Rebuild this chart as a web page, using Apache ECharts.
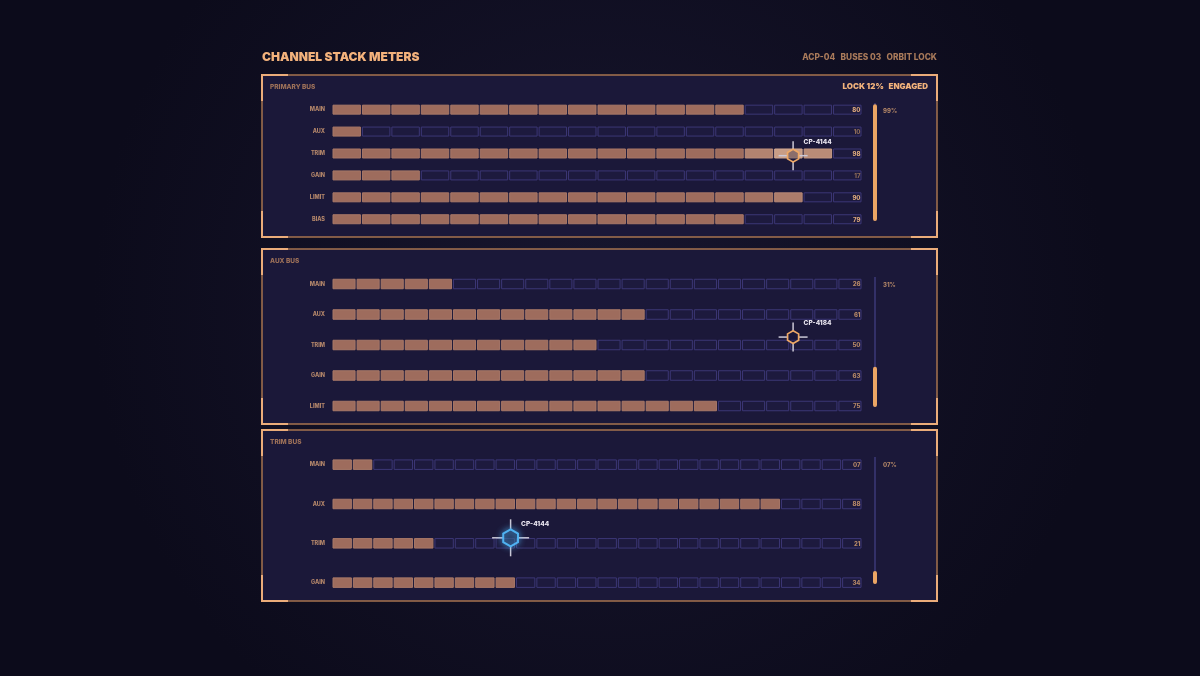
<!DOCTYPE html>
<html><head><meta charset="utf-8">
<script src="https://cdn.jsdelivr.net/npm/echarts@6/dist/echarts.min.js"></script>
<style>html,body{margin:0;padding:0;background:#110f25;}#c{width:1200px;height:676px;}</style>
</head><body><div id="c"></div>
<script>
// ---------- data ----------
const chartTitle = 'CHANNEL STACK METERS';
const metaText = 'ACP-04   BUSES 03   ORBIT LOCK';
const lockText = 'LOCK 12%   ENGAGED';
const panelTitles = ['PRIMARY BUS', 'AUX BUS', 'TRIM BUS'];
const rows1 = ['MAIN', 'AUX', 'TRIM', 'GAIN', 'LIMIT', 'BIAS'];
const values1 = [80, 10, 98, 17, 90, 79];
const rows2 = ['MAIN', 'AUX', 'TRIM', 'GAIN', 'LIMIT'];
const values2 = [26, 61, 50, 63, 75];
const rows3 = ['MAIN', 'AUX', 'TRIM', 'GAIN'];
const values3 = [7.8, 88, 21, 34.8];
const segmentCounts = [18, 22, 26];
const gaugeValues = [99, 31, 7];
const cursorIds = ['CP-4144', 'CP-4184', 'CP-4144'];
const cursorX = [87, 87, 33.7];     // % along track
const cursorRow = [2.1, 1.74, 1.86]; // row position

// ---------- layout / style ----------
const FONT = 'Inter, "Noto Sans", sans-serif';
const rowsAll = [rows1, rows2, rows3];
const valuesAll = [values1, values2, values3];
const L = [
  {box: [262, 75, 675, 162], grid: {top: 98.7, height: 131.5}, gauge: {top: 103, height: 118}, segH: 9},
  {box: [262, 249, 675, 175], grid: {top: 268.75, height: 152.5}, gauge: {top: 277, height: 130}, segH: 9.5},
  {box: [262, 430, 675, 171], grid: {top: 445, height: 157.3}, gauge: {top: 457, height: 127}, segH: 9.5}
];
const cursorStyle = [
  {color: '#eea866', r: 6.4, arm: 14.5, lw: 1.7, glow: 0, lightRadius: 60},
  {color: '#eea866', r: 6.4, arm: 14.5, lw: 1.7, glow: 0, lightRadius: 60},
  {color: '#4fb2f2', r: 8.5, arm: 18.5, lw: 2, glow: 6, lightRadius: 0}
];
const ON = [158, 108, 93], HI = [204, 162, 138];
function mix(a, b, k) {
  return 'rgb(' + a.map((v, i) => Math.round(v + (b[i] - v) * k)).join(',') + ')';
}
const pad = v => String(Math.floor(v)).padStart(2, '0');

function meterRender(p) {
  return function (params, api) {
    const row = api.value(0), v = api.value(1);
    const N = segmentCounts[p];
    const lit = Math.floor(v / 100 * N + 1e-9);
    const cy = api.coord([0, row])[1];
    const h = L[p].segH;
    const cur = api.coord([cursorX[p], cursorRow[p]]);
    const lr = cursorStyle[p].lightRadius;
    const children = [];
    let lastX = 0;
    for (let i = 0; i < N; i++) {
      const x0 = api.coord([i * 100 / N, row])[0];
      const x1 = api.coord([(i + 1) * 100 / N, row])[0];
      lastX = x1;
      const on = i < lit;
      let fill = '#1d1a3e', stroke = '#3c3776';
      if (on) {
        const d = Math.hypot((x0 + x1) / 2 - cur[0], cy - cur[1]);
        const k = lr > 0 ? Math.max(0, 1 - d / lr) : 0;
        fill = mix(ON, HI, k);
        stroke = mix([168, 120, 104], [214, 174, 150], k);
      }
      children.push({type: 'rect', shape: {x: x0 + 1, y: cy - h / 2, width: x1 - x0 - 2, height: h},
        style: {fill: fill, stroke: stroke, lineWidth: 1}});
    }
    const bright = p === 0 ? (v >= 50 ? '#dca87c' : '#8e6c58') : '#b48766';
    children.push({type: 'text', style: {text: pad(v), x: lastX - 1.5, y: cy + 0.5, align: 'right', verticalAlign: 'middle',
      font: '800 6px ' + FONT, fill: bright}});
    return {type: 'group', children: children};
  };
}

function cursorRender(p) {
  return function (params, api) {
    const c = api.coord([api.value(0), api.value(1)]);
    const st = cursorStyle[p];
    const r = st.r, arm = st.arm, hx = r * 0.866;
    const pts = [];
    for (let k = 0; k < 6; k++) {
      const a = (-90 + 60 * k) * Math.PI / 180;
      pts.push([c[0] + r * Math.cos(a), c[1] + r * Math.sin(a)]);
    }
    const ls = {stroke: '#cbc8d6', lineWidth: 1.5};
    return {type: 'group', children: [
      {type: 'line', shape: {x1: c[0] - arm, y1: c[1], x2: c[0] - hx, y2: c[1]}, style: ls},
      {type: 'line', shape: {x1: c[0] + hx, y1: c[1], x2: c[0] + arm, y2: c[1]}, style: ls},
      {type: 'line', shape: {x1: c[0], y1: c[1] - arm, x2: c[0], y2: c[1] - r}, style: ls},
      {type: 'line', shape: {x1: c[0], y1: c[1] + r, x2: c[0], y2: c[1] + arm}, style: ls},
      {type: 'polygon', shape: {points: pts}, style: {fill: 'rgba(27,24,56,0.35)', stroke: st.color, lineWidth: st.lw,
        shadowBlur: st.glow, shadowColor: st.color}},
      {type: 'text', style: {text: cursorIds[p], x: c[0] + 10.5, y: c[1] - 14, align: 'left', verticalAlign: 'middle',
        font: '800 6.5px ' + FONT, fill: '#ece8f2'}}
    ]};
  };
}

function gaugeRender(p) {
  return function (params, api) {
    const v = api.value(1);
    const top = api.coord([0.5, 100]), bot = api.coord([0.5, 0]), val = api.coord([0.5, v]);
    let y0 = val[1];
    if (bot[1] - y0 < 13) y0 = bot[1] - 13;
    return {type: 'group', children: [
      {type: 'line', shape: {x1: top[0], y1: top[1], x2: bot[0], y2: bot[1]}, style: {stroke: '#3d3978', lineWidth: 1.5}},
      {type: 'rect', shape: {x: top[0] - 2, y: y0, width: 4, height: bot[1] - y0, r: 2}, style: {fill: '#eba564'}},
      {type: 'text', style: {text: pad(v) + '%', x: top[0] + 8, y: top[1] + 8, align: 'left', verticalAlign: 'middle',
        font: '800 6px ' + FONT, fill: '#b08466'}}
    ]};
  };
}

const grids = [], xAxes = [], yAxes = [], series = [];
const graphics = [
  {type: 'rect', shape: {x: 0, y: 0, width: 1200, height: 676}, z: -100,
    style: {fill: {type: 'radial', x: 0.5, y: 0.45, r: 0.75, colorStops: [
      {offset: 0, color: '#18162f'}, {offset: 1, color: '#0c0b1b'}]}}},
  {type: 'text', x: 262, y: 57, z: 10, style: {text: chartTitle, font: '900 12px ' + FONT, fill: '#f3b27c', verticalAlign: 'middle'}},
  {type: 'text', x: 937, y: 58, z: 10, style: {text: metaText, font: '800 8.3px ' + FONT, fill: '#a97a5a', align: 'right', verticalAlign: 'middle'}},
  {type: 'text', x: 928, y: 87, z: 10, style: {text: lockText, font: '900 8px ' + FONT, fill: '#f2b27c', align: 'right', verticalAlign: 'middle'}}
];

for (let p = 0; p < 3; p++) {
  const [bx, by, bw, bh] = L[p].box;
  graphics.push({type: 'rect', z: -50, shape: {x: bx, y: by, width: bw, height: bh},
    style: {fill: '#1b1839', stroke: '#a6734f', lineWidth: 1.5}});
  const a = 26, cs = {stroke: '#ebac7a', lineWidth: 2, fill: null};
  graphics.push({type: 'polyline', z: -40, shape: {points: [[bx, by + a], [bx, by], [bx + a, by]]}, style: cs});
  graphics.push({type: 'polyline', z: -40, shape: {points: [[bx + bw - a, by], [bx + bw, by], [bx + bw, by + a]]}, style: cs});
  graphics.push({type: 'polyline', z: -40, shape: {points: [[bx, by + bh - a], [bx, by + bh], [bx + a, by + bh]]}, style: cs});
  graphics.push({type: 'polyline', z: -40, shape: {points: [[bx + bw - a, by + bh], [bx + bw, by + bh], [bx + bw, by + bh - a]]}, style: cs});
  graphics.push({type: 'text', x: 270, y: by + 12, z: 10, style: {text: panelTitles[p], font: '800 6.5px ' + FONT, fill: '#9e7159', verticalAlign: 'middle'}});

  const n = rowsAll[p].length;
  grids.push({left: 332, width: 530, top: L[p].grid.top, height: L[p].grid.height});
  grids.push({left: 873, width: 4, top: L[p].gauge.top, height: L[p].gauge.height});
  xAxes.push({type: 'value', gridIndex: 2 * p, min: 0, max: 100, show: false});
  xAxes.push({type: 'value', gridIndex: 2 * p + 1, min: 0, max: 1, show: false});
  yAxes.push({type: 'category', gridIndex: 2 * p, data: rowsAll[p], inverse: true, position: 'left',
    axisLine: {show: false}, axisTick: {show: false}, splitLine: {show: false},
    axisLabel: {color: '#b4866a', fontSize: 5.5, fontWeight: 800, fontFamily: FONT, margin: 7}});
  yAxes.push({type: 'value', gridIndex: 2 * p, min: -0.5, max: n - 0.5, inverse: true, show: false});
  yAxes.push({type: 'value', gridIndex: 2 * p + 1, min: 0, max: 100, show: false});

  series.push({type: 'custom', xAxisIndex: 2 * p, yAxisIndex: 3 * p + 1, renderItem: meterRender(p),
    encode: {x: 1, y: 0}, data: valuesAll[p].map((v, i) => [i, v]), silent: true, z: 2});
  series.push({type: 'custom', xAxisIndex: 2 * p, yAxisIndex: 3 * p + 1, renderItem: cursorRender(p),
    encode: {x: 0, y: 1}, data: [[cursorX[p], cursorRow[p]]], silent: true, z: 5});
  series.push({type: 'custom', xAxisIndex: 2 * p + 1, yAxisIndex: 3 * p + 2, renderItem: gaugeRender(p),
    encode: {x: 0, y: 1}, data: [[0.5, gaugeValues[p]]], silent: true, z: 3});
}

const chart = echarts.init(document.getElementById('c'), null, {renderer: 'canvas', width: 1200, height: 676});
chart.setOption({
  animation: false,
  backgroundColor: '#110f25',
  grid: grids, xAxis: xAxes, yAxis: yAxes, series: series, graphic: graphics
});
</script>
</body></html>
